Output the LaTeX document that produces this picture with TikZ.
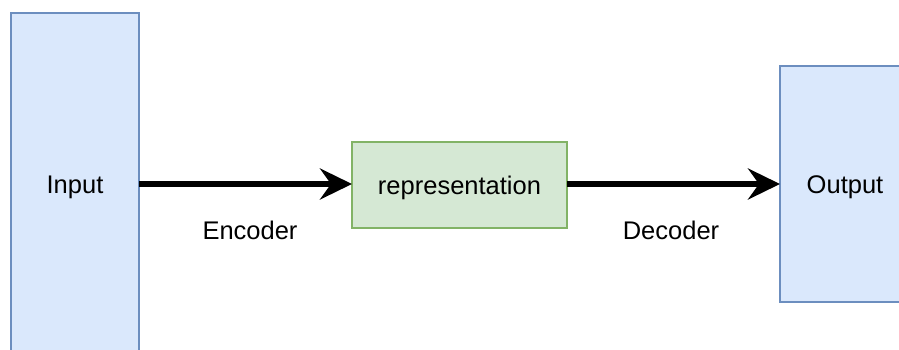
\documentclass[tikz,border=0pt]{standalone}
\usepackage{fontspec}
\setmainfont{Liberation Sans}
\usetikzlibrary{arrows.meta}
\definecolor{bluefill}{HTML}{DAE8FC}
\definecolor{bluedraw}{HTML}{6C8EBF}
\definecolor{greenfill}{HTML}{D5E8D4}
\definecolor{greendraw}{HTML}{82B366}
\begin{document}
\begin{tikzpicture}[x=1pt,y=-1pt,
  every node/.style={font=\fontsize{25.5}{30}\selectfont, inner sep=0pt, outer sep=0pt,
                     text height=18pt, text depth=0pt},
  bluebox/.style={draw=bluedraw, fill=bluefill, line width=2pt, rectangle},
  greenbox/.style={draw=greendraw, fill=greenfill, line width=2pt, rectangle},
  flow/.style={line width=5.5pt, -{Stealth[length=32pt, width=31pt, inset=11pt]}},
  caption/.style={text=black}]
  \useasboundingbox (0,0) rectangle (899,350);
  \clip (0,0) rectangle (899,350);
  \fill[white] (0,0) rectangle (899,350);

  % blocks
  \node[bluebox, minimum width=128pt, minimum height=342pt] (input) at (75,184) {Input};
  \node[greenbox, minimum width=215pt, minimum height=86pt] (rep) at (459.5,185) {representation};
  \node[bluebox, minimum width=130pt, minimum height=236pt] (output) at (845,184) {Output};

  % connectors
  \draw[flow] (input.east |- 0,184) -- (rep.west |- 0,184);
  \draw[flow] (rep.east |- 0,184) -- (output.west |- 0,184);

  % labels
  \node[caption] (enc) at (250,230) {Encoder};
  \node[caption] (dec) at (671,230) {Decoder};
\end{tikzpicture}
\end{document}
